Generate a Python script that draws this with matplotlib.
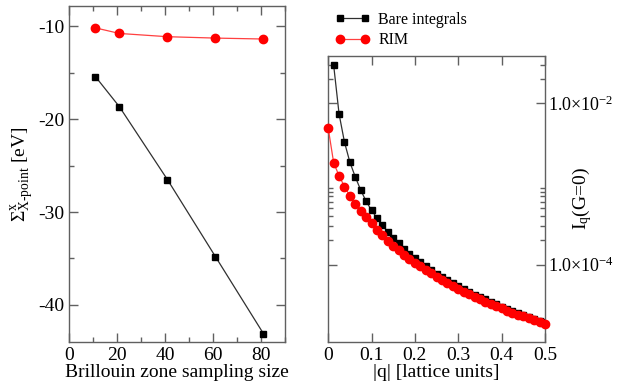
import numpy as np
import matplotlib
matplotlib.use('Agg')
import matplotlib.pyplot as plt
from matplotlib.ticker import MultipleLocator, FixedLocator, FixedFormatter, LogLocator, NullFormatter

plt.rcParams['font.family'] = ['Liberation Serif', 'DejaVu Serif']
plt.rcParams['mathtext.fontset'] = 'custom'
plt.rcParams['mathtext.rm'] = 'Liberation Serif'
plt.rcParams['mathtext.it'] = 'Liberation Serif:italic'
plt.rcParams['axes.unicode_minus'] = False

# left panel: exchange self-energy at X point vs BZ sampling
bz_size = [11, 21, 41, 61, 81]
sigma_bare = [-15.4, -18.65, -26.5, -34.8, -43.1]
sigma_rim = [-10.15, -10.75, -11.1, -11.25, -11.35]

# right panel: I_q(G=0) vs |q|
q_bare = [0.0125, 0.025, 0.0375, 0.05, 0.0625, 0.075, 0.0875, 0.1, 0.1125, 0.125,
          0.1375, 0.15, 0.1625, 0.175, 0.1875, 0.2, 0.2125, 0.225, 0.2375, 0.25,
          0.2625, 0.275, 0.2875, 0.3, 0.3125, 0.325, 0.3375, 0.35, 0.3625, 0.375,
          0.3875, 0.4, 0.4125, 0.425, 0.4375, 0.45, 0.4625, 0.475, 0.4875, 0.5]
iq_bare = [2.98e-2, 7.4e-3, 3.3e-3, 1.86e-3, 1.22e-3, 8.4e-4, 6.1e-4, 4.7e-4, 3.8e-4, 3.1e-4,
           2.55e-4, 2.14e-4, 1.84e-4, 1.57e-4, 1.37e-4, 1.21e-4, 1.07e-4, 9.5e-5, 8.5e-5, 7.7e-5,
           7.0e-5, 6.4e-5, 5.85e-5, 5.4e-5, 4.95e-5, 4.6e-5, 4.25e-5, 3.95e-5, 3.7e-5, 3.45e-5,
           3.22e-5, 3.02e-5, 2.85e-5, 2.68e-5, 2.52e-5, 2.38e-5, 2.25e-5, 2.13e-5, 2.02e-5, 1.92e-5]
q_rim = [0.0] + q_bare
iq_rim = [4.9e-3, 1.84e-3, 1.26e-3, 9.3e-4, 7.1e-4, 5.6e-4, 4.65e-4, 3.85e-4, 3.25e-4, 2.7e-4, 2.3e-4,
          1.98e-4, 1.72e-4, 1.5e-4, 1.33e-4, 1.18e-4, 1.05e-4, 9.5e-5, 8.5e-5, 7.8e-5, 7.1e-5,
          6.5e-5, 5.95e-5, 5.45e-5, 5.0e-5, 4.62e-5, 4.3e-5, 4.0e-5, 3.72e-5, 3.48e-5, 3.25e-5,
          3.05e-5, 2.87e-5, 2.7e-5, 2.55e-5, 2.41e-5, 2.28e-5, 2.16e-5, 2.05e-5, 1.95e-5, 1.86e-5]

spine_col = '#606060'
fs = 14

fig = plt.figure(figsize=(6.24, 3.87), dpi=100)
ax1 = fig.add_axes([0.1106, 0.1163, 0.3462, 0.868])
ax2 = fig.add_axes([0.526, 0.1163, 0.3473, 0.740])

def style(ax):
    for s in ax.spines.values():
        s.set_color(spine_col)
        s.set_linewidth(1.0)
    ax.tick_params(which='both', direction='in', top=True, right=True,
                   color=spine_col, labelsize=fs, width=1.0)
    ax.tick_params(which='major', length=6.5)
    ax.tick_params(which='minor', length=3.5)

# left
ax1.plot(bz_size, sigma_bare, '-', color='#303030', lw=0.9, marker='s', ms=5,
         mfc='black', mec='black')
ax1.plot(bz_size, sigma_rim, '-', color='#ff4040', lw=0.9, marker='o', ms=6,
         mfc='red', mec='red')
ax1.set_xlim(0, 90)
ax1.set_ylim(-44, -7.8)
ax1.xaxis.set_major_locator(FixedLocator([0, 20, 40, 60, 80]))
ax1.xaxis.set_minor_locator(MultipleLocator(10))
ax1.yaxis.set_major_locator(FixedLocator([-40, -30, -20, -10]))
ax1.yaxis.set_minor_locator(MultipleLocator(5))
style(ax1)
ax1.set_xlabel('Brillouin zone sampling size', fontsize=fs, labelpad=0)
ax1.set_ylabel(r'$\Sigma^{\mathrm{x}}_{\mathrm{X}\text{-}\mathrm{point}}$ [eV]', fontsize=fs)
ax1.yaxis.set_label_coords(-0.155, 0.5)

# right
ax2.plot(q_bare, iq_bare, '-', color='#303030', lw=0.9, marker='s', ms=5,
         mfc='black', mec='black', label='Bare integrals', zorder=2)
ax2.plot(q_rim, iq_rim, '-', color='#ff4040', lw=0.9, marker='o', ms=6,
         mfc='red', mec='red', label='RIM', zorder=3, clip_on=False)
ax2.set_yscale('log')
ax2.set_xlim(0, 0.5)
ax2.set_ylim(1.1e-5, 3.9e-2)
ax2.xaxis.set_major_locator(FixedLocator([0, 0.1, 0.2, 0.3, 0.4, 0.5]))
ax2.xaxis.set_major_formatter(FixedFormatter(['0', '0.1', '0.2', '0.3', '0.4', '0.5']))
ax2.yaxis.set_major_locator(FixedLocator([1e-4, 1e-2]))
ax2.yaxis.set_major_formatter(FixedFormatter([r'1.0$\times$10$^{-4}$', r'1.0$\times$10$^{-2}$']))
ax2.yaxis.set_minor_locator(LogLocator(base=100, subs=np.arange(2, 10), numticks=10))
ax2.yaxis.set_minor_formatter(NullFormatter())
style(ax2)
ax2.tick_params(axis='y', which='both', labelleft=False, labelright=True, labelsize=13, pad=2)
ax2.yaxis.set_label_position('right')
ax2.set_xlabel('|q| [lattice units]', fontsize=fs, labelpad=0)
ax2.set_ylabel(r'I$_{\mathrm{q}}$(G=0)', fontsize=fs)
ax2.yaxis.set_label_coords(1.115, 0.5)

fig.legend(loc='upper left', bbox_to_anchor=(0.537, 0.97), frameon=False,
           fontsize=11.5, numpoints=2, handlelength=2.2, handletextpad=0.5,
           labelspacing=0.3, borderpad=0, borderaxespad=0)

fig.savefig('out.png', dpi=100)
